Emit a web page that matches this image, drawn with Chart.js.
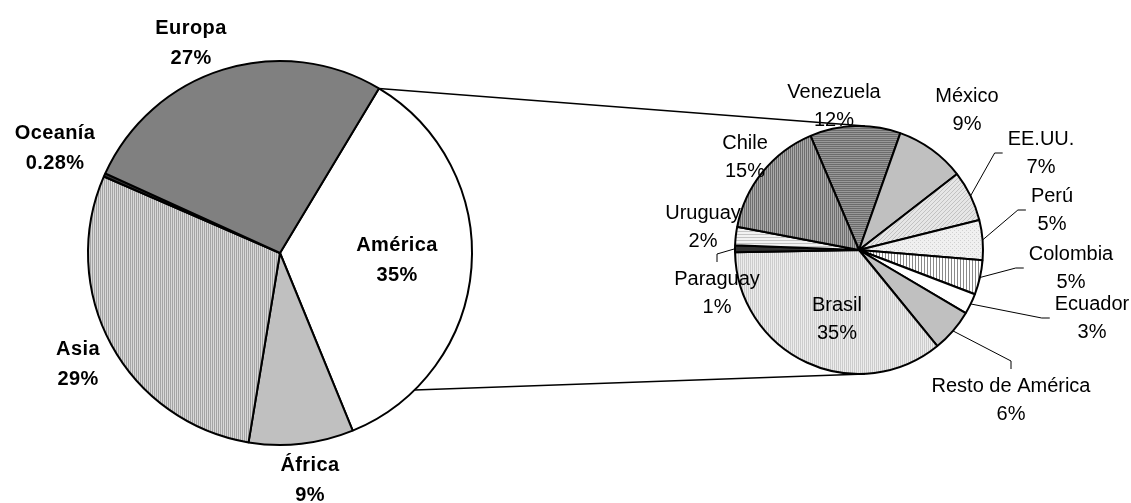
<!DOCTYPE html>
<html>
<head>
<meta charset="utf-8">
<script src="https://cdn.jsdelivr.net/npm/chart.js@4.4.1/dist/chart.umd.min.js"></script>
<style>
  body { margin: 0; background: #fff; }
  #wrap { position: relative; width: 1131px; height: 503px; }
  #wrap canvas { position: absolute; left: 0; top: 0; }
</style>
</head>
<body>
<div id="wrap">
  <canvas id="mainPie" width="1131" height="503"></canvas>
  <canvas id="subPie" width="1131" height="503"></canvas>
</div>
<script>
// data
const continents = ["América", "África", "Asia", "Oceanía", "Europa"];
const continentShare = [35.2, 8.8, 28.9, 0.28, 26.8];
const continentPct = ["35%", "9%", "29%", "0.28%", "27%"];

const countries = ["Venezuela", "México", "EE.UU.", "Perú", "Colombia", "Ecuador",
  "Resto de América", "Brasil", "Paraguay", "Uruguay", "Chile"];
const countryShare = [11.8, 9.1, 6.6, 5.2, 4.5, 2.7, 5.6, 35.6, 0.9, 2.4, 15.6];
const countryPct = ["12%", "9%", "7%", "5%", "5%", "3%", "6%", "35%", "1%", "2%", "15%"];

// label placement (offset of the text block from the pie centre) - layout only
const mainLabelAt = [[117, 7], [30, 227], [-202, 111], [-225, -105], [-89, -210]];
const subLabelAt = [[-25, -144], [108, -140], [182, -97], [193, -40], [212, 18], [233, 68],
  [152, 150], [-22, 69], [-142, 43], [-156, -23], [-114, -93]];
const subLeader = [null, null, "left", "left", "left", "left", "top", null, "top", null, null];

// little fill patterns like the old excel ones
function pattern(w, h, bg, paint) {
  let c = document.createElement("canvas");
  c.width = w; c.height = h;
  let g = c.getContext("2d");
  g.fillStyle = bg;
  g.fillRect(0, 0, w, h);
  paint(g);
  return g.createPattern(c, "repeat");
}
const vLines = (bg, fg, p) => pattern(p, 1, bg, g => { g.fillStyle = fg; g.fillRect(0, 0, 1, 1); });
const hLines = (bg, fg, p) => pattern(1, p, bg, g => { g.fillStyle = fg; g.fillRect(0, 0, 1, 1); });
const diag = (bg, fg) => pattern(4, 4, bg, g => { g.fillStyle = fg; for (let i = 0; i < 4; i++) g.fillRect(i, 3 - i, 1, 1); });
const dots = (bg, fg) => pattern(4, 4, bg, g => { g.fillStyle = fg; g.fillRect(0, 0, 1, 1); g.fillRect(2, 2, 1, 1); });

const mainColors = ["#ffffff", "#c0c0c0", vLines("#d8d8d8", "#a4a4a4", 2), "#333333", "#808080"];
const subColors = [
  hLines("#989898", "#6c6c6c", 2), "#c0c0c0", diag("#e6e6e6", "#c2c2c2"), dots("#f0f0f0", "#d0d0d0"),
  vLines("#ffffff", "#8a8a8a", 3), "#ffffff", "#c0c0c0", vLines("#ececec", "#cccccc", 2),
  "#303030", hLines("#f2f2f2", "#c4c4c4", 3), vLines("#aaaaaa", "#6e6e6e", 2)
];

// text labels (two lines) plus optional leader lines
const pieText = {
  id: "pieText",
  afterDatasetsDraw(chart, args, opts) {
    let ctx = chart.ctx;
    let arcs = chart.getDatasetMeta(0).data;
    ctx.save();
    ctx.font = opts.font;
    if ("letterSpacing" in ctx) ctx.letterSpacing = opts.spacing || "0px";
    ctx.fillStyle = "#000";
    ctx.textAlign = "center";
    ctx.textBaseline = "middle";
    arcs.forEach((arc, i) => {
      let bx = arc.x + opts.at[i][0];
      let by = arc.y + opts.at[i][1];
      let l1 = opts.names[i], l2 = opts.pcts[i];
      ctx.fillText(l1, bx, by - opts.gap / 2);
      ctx.fillText(l2, bx, by + opts.gap / 2);
      let side = opts.leaders ? opts.leaders[i] : null;
      if (!side) return;
      let mid = (arc.startAngle + arc.endAngle) / 2;
      let sx = arc.x + arc.outerRadius * Math.cos(mid);
      let sy = arc.y + arc.outerRadius * Math.sin(mid);
      let w = Math.max(ctx.measureText(l1).width, ctx.measureText(l2).width);
      let ex, ey, kx, ky;
      if (side == "left") {
        ex = bx - w / 2 - 5; ey = by;
        kx = ex - 8; ky = ey;
      } else {
        ex = bx; ey = by - opts.gap / 2 - 17;
        kx = ex; ky = ey - 8;
      }
      ctx.beginPath();
      ctx.lineWidth = 1;
      ctx.strokeStyle = "#000";
      ctx.moveTo(sx, sy);
      ctx.lineTo(kx, ky);
      ctx.lineTo(ex, ey);
      ctx.stroke();
    });
    ctx.restore();
  }
};

// lines joining america slice to the second pie
const connectorBottomDeg = 135.5;
const connectors = {
  id: "connectors",
  afterDatasetsDraw(chart) {
    let big = mainChart.getDatasetMeta(0).data[0];
    let small = chart.getDatasetMeta(0).data[0];
    let a1 = big.startAngle;
    let a2 = (connectorBottomDeg - 90) * Math.PI / 180;
    let ctx = chart.ctx;
    ctx.save();
    ctx.strokeStyle = "#000";
    ctx.lineWidth = 1.6;
    ctx.beginPath();
    ctx.moveTo(big.x + big.outerRadius * Math.cos(a1), big.y + big.outerRadius * Math.sin(a1));
    ctx.lineTo(small.x + 6, small.y - small.outerRadius);
    ctx.moveTo(big.x + big.outerRadius * Math.cos(a2), big.y + big.outerRadius * Math.sin(a2));
    ctx.lineTo(small.x + 6, small.y + small.outerRadius);
    ctx.stroke();
    ctx.restore();
  }
};

var mainChart = new Chart(document.getElementById("mainPie").getContext("2d"), {
  type: "pie",
  data: {
    labels: continents,
    datasets: [{
      data: continentShare,
      backgroundColor: mainColors,
      borderColor: "#000",
      borderWidth: 2,
      hoverOffset: 0
    }]
  },
  options: {
    responsive: false,
    animation: false,
    events: [],
    rotation: 31,
    layout: { padding: { left: 87, right: 658, top: 60, bottom: 57 } },
    plugins: {
      legend: { display: false },
      tooltip: { enabled: false },
      pieText: {
        names: continents, pcts: continentPct, at: mainLabelAt,
        font: "bold 20px 'Liberation Sans', Arial, sans-serif", gap: 30, spacing: "0.4px"
      }
    }
  },
  plugins: [pieText]
});

var subChart = new Chart(document.getElementById("subPie").getContext("2d"), {
  type: "pie",
  data: {
    labels: countries,
    datasets: [{
      data: countryShare,
      backgroundColor: subColors,
      borderColor: "#000",
      borderWidth: 2,
      hoverOffset: 0
    }]
  },
  options: {
    responsive: false,
    animation: false,
    events: [],
    rotation: -23,
    layout: { padding: { left: 734, right: 147, top: 125, bottom: 128 } },
    plugins: {
      legend: { display: false },
      tooltip: { enabled: false },
      pieText: {
        names: countries, pcts: countryPct, at: subLabelAt, leaders: subLeader,
        font: "20px 'Liberation Sans', Arial, sans-serif", gap: 28
      }
    }
  },
  plugins: [pieText, connectors]
});
</script>
</body>
</html>
